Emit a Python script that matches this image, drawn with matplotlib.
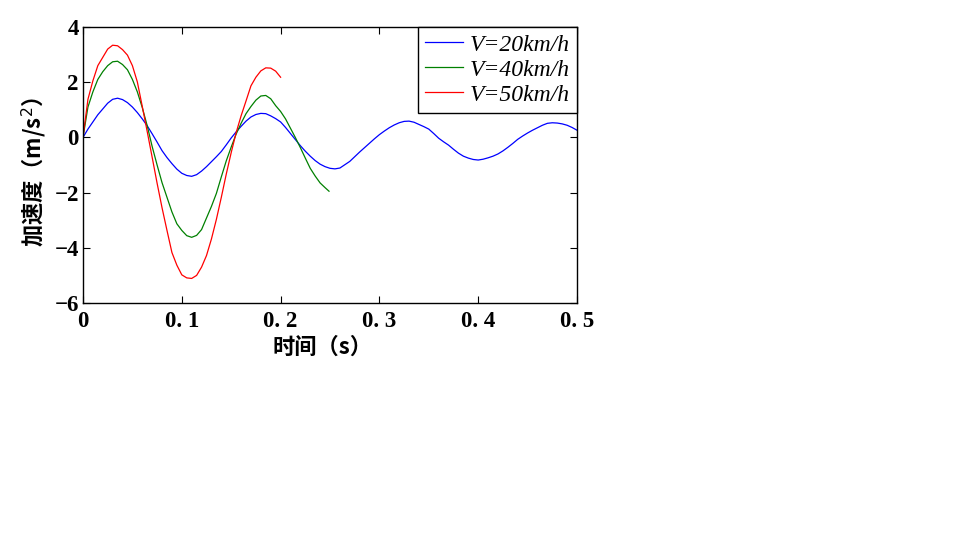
import matplotlib
matplotlib.use("Agg")
import matplotlib.pyplot as plt

# time grid (s), 5 ms steps
t_20 = [0.000, 0.005, 0.010, 0.015, 0.020, 0.025, 0.030, 0.035, 0.040, 0.045,
        0.050, 0.055, 0.060, 0.065, 0.070, 0.075, 0.080, 0.085, 0.090, 0.095,
        0.100, 0.105, 0.110, 0.115, 0.120, 0.125, 0.130, 0.135, 0.140, 0.145,
        0.150, 0.155, 0.160, 0.165, 0.170, 0.175, 0.180, 0.185, 0.190, 0.195,
        0.200, 0.205, 0.210, 0.215, 0.220, 0.225, 0.230, 0.235, 0.240, 0.245,
        0.250, 0.255, 0.260, 0.265, 0.270, 0.275, 0.280, 0.285, 0.290, 0.295,
        0.300, 0.305, 0.310, 0.315, 0.320, 0.325, 0.330, 0.335, 0.340, 0.345,
        0.350, 0.355, 0.360, 0.365, 0.370, 0.375, 0.380, 0.385, 0.390, 0.395,
        0.400, 0.405, 0.410, 0.415, 0.420, 0.425, 0.430, 0.435, 0.440, 0.445,
        0.450, 0.455, 0.460, 0.465, 0.470, 0.475, 0.480, 0.485, 0.490, 0.495, 0.500]
a_20 = [0.00, 0.30, 0.56, 0.82, 1.03, 1.24, 1.38, 1.42, 1.37, 1.26,
        1.10, 0.90, 0.67, 0.42, 0.13, -0.17, -0.48, -0.73, -0.95, -1.15,
        -1.30, -1.38, -1.41, -1.35, -1.22, -1.06, -0.88, -0.70, -0.51, -0.27,
        -0.02, 0.20, 0.40, 0.59, 0.74, 0.83, 0.87, 0.86, 0.78, 0.68,
        0.56, 0.36, 0.14, -0.08, -0.30, -0.50, -0.68, -0.84, -0.97, -1.06,
        -1.12, -1.14, -1.11, -0.99, -0.87, -0.70, -0.53, -0.37, -0.21, -0.05,
        0.10, 0.23, 0.35, 0.45, 0.53, 0.58, 0.59, 0.55, 0.47, 0.39,
        0.30, 0.14, -0.03, -0.16, -0.28, -0.43, -0.57, -0.68, -0.75, -0.80,
        -0.82, -0.79, -0.74, -0.68, -0.60, -0.49, -0.36, -0.22, -0.07, 0.05,
        0.16, 0.26, 0.35, 0.44, 0.51, 0.53, 0.52, 0.49, 0.44, 0.36, 0.26]

t_40 = [0.000, 0.005, 0.010, 0.015, 0.020, 0.025, 0.030, 0.035, 0.040, 0.045,
        0.050, 0.055, 0.060, 0.065, 0.070, 0.075, 0.080, 0.085, 0.090, 0.095,
        0.100, 0.105, 0.110, 0.115, 0.120, 0.125, 0.130, 0.135, 0.140, 0.145,
        0.150, 0.155, 0.160, 0.165, 0.170, 0.175, 0.180, 0.185, 0.190, 0.195,
        0.200, 0.205, 0.210, 0.215, 0.220, 0.225, 0.230, 0.235, 0.240, 0.245, 0.249]
a_40 = [0.00, 1.10, 1.65, 2.10, 2.38, 2.60, 2.74, 2.76, 2.64, 2.45,
        2.10, 1.65, 1.08, 0.42, -0.33, -1.00, -1.64, -2.17, -2.70, -3.13,
        -3.37, -3.56, -3.62, -3.55, -3.34, -2.92, -2.50, -2.03, -1.43, -0.85,
        -0.35, 0.12, 0.51, 0.86, 1.12, 1.35, 1.50, 1.52, 1.40, 1.15,
        0.94, 0.67, 0.33, -0.01, -0.37, -0.75, -1.12, -1.40, -1.65, -1.82, -1.95]

t_50 = [0.000, 0.005, 0.010, 0.015, 0.020, 0.025, 0.030, 0.035, 0.040, 0.045,
        0.050, 0.055, 0.060, 0.065, 0.070, 0.075, 0.080, 0.085, 0.090, 0.095,
        0.100, 0.105, 0.110, 0.115, 0.120, 0.125, 0.130, 0.135, 0.140, 0.145,
        0.150, 0.155, 0.160, 0.165, 0.170, 0.175, 0.180, 0.185, 0.190, 0.195, 0.200]
a_50 = [0.00, 1.38, 2.05, 2.60, 2.90, 3.20, 3.34, 3.32, 3.18, 2.98,
        2.60, 2.01, 1.12, 0.21, -0.72, -1.66, -2.55, -3.37, -4.17, -4.63,
        -4.98, -5.09, -5.11, -5.00, -4.70, -4.28, -3.68, -2.97, -2.17, -1.33,
        -0.55, 0.17, 0.78, 1.32, 1.87, 2.18, 2.41, 2.52, 2.51, 2.40, 2.18]

labels = ["V=20km/h", "V=40km/h", "V=50km/h"]
colors = ["#0000FF", "#008000", "#FF0000"]
x_ticks = [0, 0.1, 0.2, 0.3, 0.4, 0.5]
x_ticklabels = ["0", "0. 1", "0. 2", "0. 3", "0. 4", "0. 5"]
y_ticks = [-6, -4, -2, 0, 2, 4]
y_ticklabels = ["\u22126", "\u22124", "\u22122", "0", "2", "4"]

fig = plt.figure(figsize=(9.55, 5.43), dpi=100)
ax = fig.add_axes([83/955, 1-303/543, (577-83)/955, (303-27)/543])

for t, a, lab, c in zip([t_20, t_40, t_50], [a_20, a_40, a_50], labels, colors):
    ax.plot(t, a, color=c, lw=0.9, label=lab)

ax.set_xlim(0, 0.5)
ax.set_ylim(-6, 4)
ax.set_xticks(x_ticks)
ax.set_yticks(y_ticks)
tick_font = dict(family="Liberation Serif", weight="bold", size=16.5)
ax.set_xticklabels(x_ticklabels, fontdict=tick_font)
ax.set_yticklabels(y_ticklabels, fontdict=tick_font)
ax.tick_params(direction="in", length=5, width=0.8, top=True, right=True, pad=3)
ax.tick_params(axis="x", pad=6)
for s in ax.spines.values():
    s.set_linewidth(1.0)

cjk = ["Noto Sans CJK SC", "DejaVu Sans"]
ax.set_xlabel("时间（s）", family=cjk, weight="bold", size=16, va="center", ha="center")
ax.xaxis.set_label_coords(0.484, -0.159)
ax.set_ylabel("加速度（m/s$^{2}$）", family=cjk, weight="bold", size=16, va="center", ha="center")
ax.yaxis.set_label_coords(-0.100, 0.475)

leg = ax.legend(loc="upper right", borderaxespad=0, fancybox=False,
                edgecolor="black", framealpha=1,
                prop=dict(family="Liberation Serif", style="italic", size=17),
                handlelength=1.6, handletextpad=0.3, labelspacing=0.15,
                borderpad=0.3)
leg.get_frame().set_linewidth(1.0)

fig.savefig("out.png", dpi=100)
